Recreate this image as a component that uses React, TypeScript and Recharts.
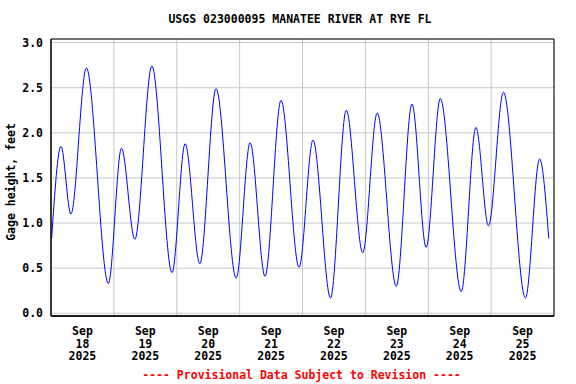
import { LineChart, Line, XAxis, YAxis, CartesianGrid, ReferenceArea } from 'recharts';

// hours since Sep 18 00:00, gage height (ft) at each turn of the tide
const hours = [
  0.25, 3.8, 7.6, 13.5, 21.9, 26.9, 32.0, 38.5, 46.2, 51.2, 56.8, 63.0, 70.7, 76.0, 81.7, 87.8, 94.7,
  100.0, 106.7, 112.7, 119.0, 124.5, 131.8, 137.8, 143.2, 148.6, 156.6, 162.2, 167.0, 172.7, 181.1,
  186.5, 190.0,
];
const gage = [
  0.83, 1.85, 1.1, 2.72, 0.33, 1.83, 0.82, 2.74, 0.45, 1.88, 0.55, 2.49, 0.39, 1.89, 0.41, 2.36, 0.51,
  1.92, 0.17, 2.25, 0.67, 2.22, 0.3, 2.32, 0.73, 2.38, 0.24, 2.06, 0.97, 2.45, 0.17, 1.71, 0.83,
];

const midnightTicks = [0, 24, 48, 72, 96, 120, 144, 168, 192];
const noonTicks = [12, 36, 60, 84, 108, 132, 156, 180];
const dayLabels = ['18', '19', '20', '21', '22', '23', '24', '25'];
const yTicks = [0, 0.5, 1, 1.5, 2, 2.5, 3];
const Y_DOMAIN: [number, number] = [-0.03, 3.04];

const FONT = '"DejaVu Sans Mono", monospace';
const data = hours.map((t, i) => ({ t, v: gage[i] }));

function DateTick(props: any) {
  const { x, y, payload } = props;
  const i = noonTicks.indexOf(payload.value);
  return (
    <text x={x} y={y} textAnchor="middle" fill="#000" fontFamily={FONT} fontWeight="bold" fontSize={11.5}>
      <tspan x={x} dy={19}>Sep</tspan>
      <tspan x={x} dy={12.7}>{dayLabels[i]}</tspan>
      <tspan x={x} dy={12.7}>2025</tspan>
    </text>
  );
}

const textStyle = {
  position: 'absolute' as const,
  fontFamily: FONT,
  fontWeight: 'bold' as const,
  fontSize: 11.5,
  lineHeight: '14px',
  whiteSpace: 'nowrap' as const,
};

export default function App() {
  return (
    <div style={{ position: 'absolute', left: 0, top: 0, width: 576, height: 384, background: '#fff' }}>
      <LineChart width={576} height={384} data={data} margin={{ top: 39, right: 22, bottom: 0, left: 0 }}>
        <CartesianGrid xAxisId="grid" stroke="#c8c8c8" strokeWidth={1} />
        <XAxis
          xAxisId="grid"
          dataKey="t"
          type="number"
          domain={[0, 192]}
          ticks={midnightTicks}
          allowDataOverflow
          height={0}
          hide
        />
        <XAxis
          xAxisId="lab"
          dataKey="t"
          type="number"
          domain={[0, 192]}
          ticks={noonTicks}
          allowDataOverflow
          height={68}
          tickSize={0}
          tickMargin={0}
          tickLine={false}
          axisLine={{ stroke: '#000', strokeWidth: 1.5 }}
          tick={<DateTick />}
          interval={0}
        />
        <YAxis
          type="number"
          domain={Y_DOMAIN}
          ticks={yTicks}
          allowDataOverflow
          width={51}
          tickSize={0}
          tickMargin={8}
          tickLine={false}
          axisLine={{ stroke: '#000' }}
          tickFormatter={(v: number) => v.toFixed(1)}
          tick={{ fill: '#000', fontFamily: FONT, fontWeight: 'bold', fontSize: 11.5 }}
          interval={0}
        />
        <ReferenceArea
          xAxisId="lab"
          x1={0}
          x2={192}
          y1={Y_DOMAIN[0]}
          y2={Y_DOMAIN[1]}
          fill="none"
          stroke="#000"
          strokeWidth={1}
          ifOverflow="visible"
        />
        <Line
          xAxisId="lab"
          dataKey="v"
          type="monotone"
          stroke="#0000ff"
          strokeWidth={1}
          dot={false}
          isAnimationActive={false}
        />
      </LineChart>
      <div style={{ ...textStyle, left: 0, width: 600, top: 12, textAlign: 'center' }}>
        USGS 023000095 MANATEE RIVER AT RYE FL
      </div>
      <div
        style={{
          ...textStyle,
          left: 11,
          top: 182,
          transform: 'translate(-50%, -50%) rotate(-90deg)',
        }}
      >
        Gage height, feet
      </div>
      <div style={{ ...textStyle, left: 0, width: 603, top: 368, textAlign: 'center', color: '#ff0000' }}>
        ---- Provisional Data Subject to Revision ----
      </div>
    </div>
  );
}
